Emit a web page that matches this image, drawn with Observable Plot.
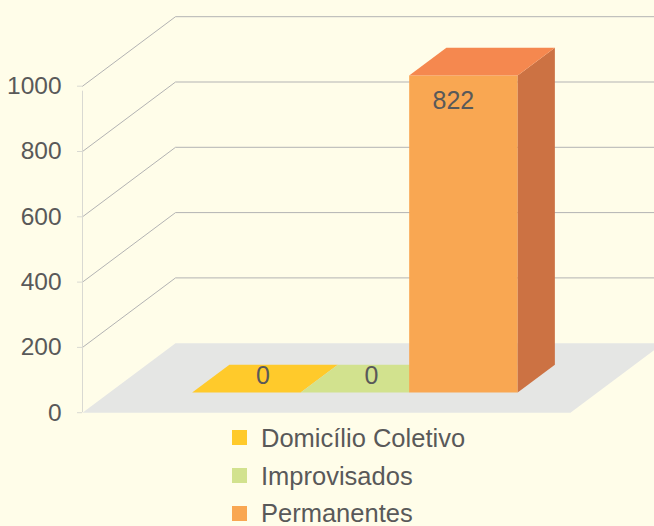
<!DOCTYPE html>
<html>
<head>
<meta charset="utf-8">
<script src="https://cdn.jsdelivr.net/npm/d3@7"></script>
<script src="https://cdn.jsdelivr.net/npm/@observablehq/plot@0.6"></script>
<style>
  html, body { margin: 0; padding: 0; background: #FFFDE9; overflow: hidden; }
  body { font-family: "Liberation Sans", Arial, sans-serif; width: 654px; height: 526px; }
  #chart { position: relative; width: 654px; height: 430px; }
  #chart svg { position: absolute; left: 0; top: 0; background: transparent; }
  #legend { margin-left: 232px; margin-top: -11px; }
  .row { display: flex; align-items: center; height: 37.8px; font-size: 25.5px; color: #595959; }
  .row span.t { line-height: 20px; }
  .sw { width: 15px; height: 15px; margin-right: 14px; flex: none; }
</style>
</head>
<body>
<div id="chart"></div>
<div id="legend"></div>
<script>
// ---------- data ----------
const categories = ["Domicílio Coletivo", "Improvisados", "Permanentes"];
const values = [0, 0, 822];
const tickValues = [0, 200, 400, 600, 800, 1000];

// ---------- styles ----------
const frontColors = ["#FFCA2B", "#D2E28E", "#F9A752"];
const topColors   = ["#FFCA2B", "#D2E28E", "#F5884F"];
const sideColors  = ["#CC9F22", "#A8B572", "#CC7243"];
const textColor = "#595959";
const font = "Liberation Sans, Arial, sans-serif";

// ---------- oblique projection geometry (world units) ----------
// X = u + w*DX, Y = v + w*DY   (u: category slots, v: value, w: depth 0 front .. 1 back)
const DX = 93 / 108.5;
const wallLeft = -0.762, wallRight = 3.735;
const barFront = 0.29, barBack = 0.69;
const xScale = {domain: [0, 1], range: [164.7, 273.2]};
const yAxisScale = {domain: [0, 1000], range: [412.2, 85.7]};   // walls / grid
const yBarScale  = {domain: [0, 1000], range: [412.2, 26.6]};   // bars
const DYA = 69.5 / ((412.2 - 85.7) / 1000);
const DYB = 69.5 / ((412.2 - 26.6) / 1000);
const P = (u, v, w, DY) => ({X: u + w * DX, Y: v + w * DY});

// ---------- walls / grid plot ----------
const gridPts = [];
tickValues.filter(t => t > 0).forEach(t => {
  [[wallLeft, 0], [wallLeft, 1], [wallRight, 1]].forEach(([u, w]) =>
    gridPts.push({id: t, ...P(u, t, w, DYA)}));
});
const floorPts = [[wallLeft, 0], [wallRight, 0], [wallRight, 1], [wallLeft, 1]]
  .map(([u, w]) => ({id: "floor", ...P(u, 0, w, DYA)}));

const plotA = Plot.plot({
  width: 654, height: 430, margin: 0,
  x: {...xScale, axis: null},
  y: {...yAxisScale, axis: null},
  style: {background: "transparent", fontFamily: font},
  marks: [
    Plot.line(gridPts, {x: "X", y: "Y", z: "id", stroke: "#B3B3B3", strokeWidth: 1}),
    Plot.line(floorPts, {x: "X", y: "Y", z: "id", fill: "#E5E6E4", stroke: "none"}),
    Plot.ruleX([wallLeft], {y1: 0, y2: tickValues[tickValues.length - 1], stroke: "#D9D9D2", insetBottom: -5}),
    Plot.ruleY(tickValues, {x1: wallLeft, x2: wallLeft, y: d => d, stroke: "#D9D9D2", insetLeft: -5}),
    Plot.text(tickValues, {x: () => wallLeft, y: d => d, text: d => String(d), textAnchor: "end",
      dx: -21, fontSize: 24.5, fill: textColor})
  ]
});

// ---------- bars plot ----------
const faces = [];
values.forEach((v, i) => {
  const u0 = i, u1 = i + 1;
  const add = (name, color, pts) => pts.forEach(([u, vv, w]) =>
    faces.push({id: i + name, color, ...P(u, vv, w, DYB)}));
  add("front", frontColors[i], [[u0, 0, barFront], [u1, 0, barFront], [u1, v, barFront], [u0, v, barFront]]);
  add("side", sideColors[i], [[u1, 0, barFront], [u1, 0, barBack], [u1, v, barBack], [u1, v, barFront]]);
  add("top", topColors[i], [[u0, v, barFront], [u1, v, barFront], [u1, v, barBack], [u0, v, barBack]]);
});
const labelData = values.map((v, i) => ({v, i}));
const midDepth = (barFront + barBack) / 2;

const plotB = Plot.plot({
  width: 654, height: 430, margin: 0,
  x: {...xScale, axis: null},
  y: {...yBarScale, axis: null},
  color: {type: "identity"},
  style: {background: "transparent", fontFamily: font},
  marks: [
    Plot.line(faces, {x: "X", y: "Y", z: "id", fill: "color", stroke: "none"}),
    Plot.text(labelData.filter(d => d.v > 0), {
      x: d => P(d.i + 0.5, d.v, barFront, DYB).X, y: d => P(d.i + 0.5, d.v, barFront, DYB).Y,
      text: d => String(d.v), dx: -10, dy: 25, fontSize: 25, fill: textColor}),
    Plot.text(labelData.filter(d => d.v === 0), {
      x: d => P(d.i + 0.5, d.v, midDepth, DYB).X, y: d => P(d.i + 0.5, d.v, midDepth, DYB).Y,
      text: d => String(d.v), dx: -2, dy: -3, fontSize: 25, fill: textColor})
  ]
});

const chart = document.getElementById("chart");
chart.appendChild(plotA);
chart.appendChild(plotB);

// ---------- legend ----------
const legend = document.getElementById("legend");
categories.forEach((c, i) => {
  const row = document.createElement("div");
  row.className = "row";
  const sw = document.createElement("span");
  sw.className = "sw";
  sw.style.background = frontColors[i];
  const t = document.createElement("span");
  t.className = "t";
  t.textContent = c;
  row.appendChild(sw); row.appendChild(t);
  legend.appendChild(row);
});
</script>
</body>
</html>
